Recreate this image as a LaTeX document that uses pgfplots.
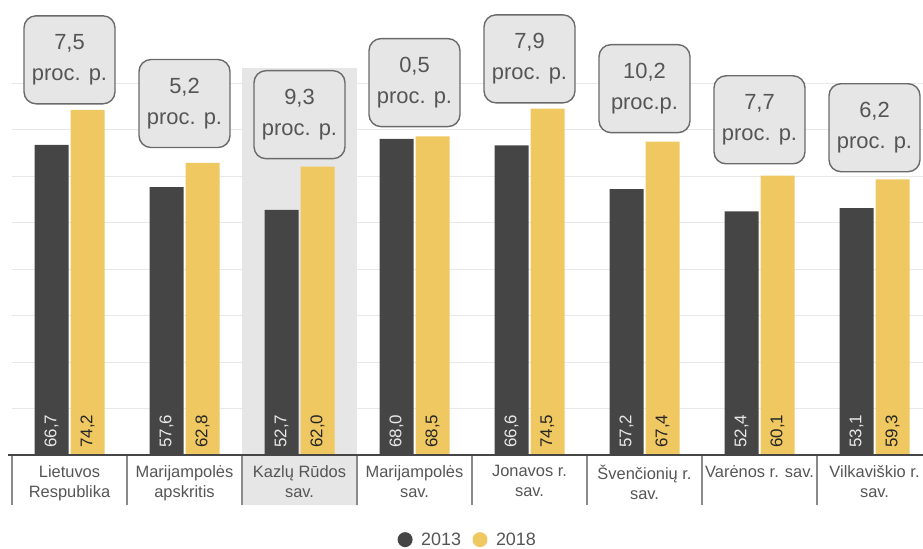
\documentclass[border=0pt]{standalone}
\usepackage{fontspec}
\setmainfont{Liberation Sans}
\usepackage{pgfplots}
\pgfplotsset{compat=1.18}

\definecolor{dark}{HTML}{454545}
\definecolor{gold}{HTML}{EFC862}
\definecolor{gridc}{HTML}{E8E8E8}
\definecolor{hilite}{HTML}{E6E6E6}
\definecolor{boxf}{HTML}{E6E6E6}
\definecolor{boxb}{HTML}{6A6A6A}
\definecolor{labc}{HTML}{555555}
\definecolor{sepc}{HTML}{8A8A8A}

\tikzset{
    callout/.style={draw=boxb, fill=boxf, line width=1.4bp, rounded corners=12bp,
        minimum width=91bp, minimum height=88bp, align=center, text=labc,
        font=\fontsize{22}{31}\selectfont, inner sep=0pt, anchor=north},
    catlab/.style={anchor=north, yshift=-10bp, inner sep=0pt, align=center, text=labc,
        font=\fontsize{16.5}{20}\selectfont},
}

\begin{document}
\begin{tikzpicture}
    \useasboundingbox (-12bp,-94bp) rectangle (911bp,455bp);
    \begin{axis}[
            scale only axis,
            width=911bp, height=455bp,
            xmin=-0.5, xmax=7.4217,
            ymin=0, ymax=97.85,
            clip=false,
            axis line style={draw=none},
            major tick style={draw=none},
            %
            ytick={10,20,...,80}, yticklabels={},
            ymajorgrids, grid style={draw=gridc, line width=1bp},
            xtick={0,...,7}, xticklabels={},
            %
            ybar=2bp, bar width=34bp,
            visualization depends on={y \as \rawy},
            nodes near coords={\pgfmathprintnumber[fixed,fixed zerofill,precision=1,use comma,assume math mode=true]{\pgfplotspointmeta}},
            every node near coord/.append style={font=\fontsize{17}{17}\selectfont,
                shift={(axis direction cs:0,-\rawy)}, yshift=7bp, anchor=west, rotate=90, inner sep=0pt},
            %
            legend columns=2,
            legend style={at={(rel axis cs:0.5,-0.186)}, anchor=center, draw=none, fill=none,
                font=\fontsize{18}{18}\selectfont, text=labc, nodes={inner sep=1.5bp},
                /tikz/every even column/.append style={column sep=10bp}},
        ]

        % highlighted municipality
        \fill[hilite] (axis cs:1.5,-10.75) rectangle (axis cs:2.5,83.2);

        \addplot[fill=dark, draw=none,
            every node near coord/.append style={text=gridc},
            legend image code/.code={\fill (7.5bp,0bp) circle (7.5bp); \path (22bp,0bp);}]
            coordinates {(0,66.7) (1,57.6) (2,52.7) (3,68.0) (4,66.6) (5,57.2) (6,52.4) (7,53.1)};
        \addlegendentry{2013}

        \addplot[fill=gold, draw=none,
            every node near coord/.append style={text=black!85},
            legend image code/.code={\fill (7.5bp,0bp) circle (7.5bp); \path (22bp,0bp);}]
            coordinates {(0,74.2) (1,62.8) (2,62.0) (3,68.5) (4,74.5) (5,67.4) (6,60.1) (7,59.3)};
        \addlegendentry{2018}

        % category separators and base line
        \draw[sepc, line width=1.2bp]
            (axis cs:-0.5,0) -- (axis cs:-0.5,-10.75)
            (axis cs:0.5,0) -- (axis cs:0.5,-10.75)
            (axis cs:1.5,0) -- (axis cs:1.5,-10.75)
            (axis cs:2.5,0) -- (axis cs:2.5,-10.75)
            (axis cs:3.5,0) -- (axis cs:3.5,-10.75)
            (axis cs:4.5,0) -- (axis cs:4.5,-10.75)
            (axis cs:5.5,0) -- (axis cs:5.5,-10.75)
            (axis cs:6.5,0) -- (axis cs:6.5,-10.75);
        \draw[dark, line width=1.6bp] (axis cs:-0.535,0) -- (axis cs:7.4217,0);

        % category names
        \node[catlab] at (axis cs:0,0) {Lietuvos\\Respublika};
        \node[catlab] at (axis cs:1,0) {Marijampolės\\apskritis};
        \node[catlab] at (axis cs:2,0) {Kazlų Rūdos\\sav.};
        \node[catlab] at (axis cs:3,0) {Marijampolės\\sav.};
        \node[catlab] at (axis cs:4,0) {Jonavos r.\\sav.};
        \node[catlab] at (axis cs:5,0) {Švenčionių r.\\sav.};
        \node[catlab] at (axis cs:6,0) {Varėnos r. sav.};
        \node[catlab] at (axis cs:7,0) {Vilkaviškio r.\\sav.};

        % change labels
        \node[callout] at (axis cs:0,94.6) {7,5\\proc. p.};
        \node[callout] at (axis cs:1,85.2) {5,2\\proc. p.};
        \node[callout] at (axis cs:2,82.8) {9,3\\proc. p.};
        \node[callout] at (axis cs:3,89.7) {0,5\\proc. p.};
        \node[callout] at (axis cs:4,94.8) {7,9\\proc. p.};
        \node[callout] at (axis cs:5,88.4) {10,2\\proc.p.};
        \node[callout] at (axis cs:6,81.7) {7,7\\proc. p.};
        \node[callout] at (axis cs:7,80.0) {6,2\\proc. p.};
    \end{axis}
\end{tikzpicture}
\end{document}
